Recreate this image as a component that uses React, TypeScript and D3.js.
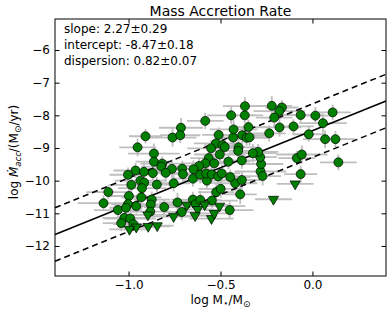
import React, { useEffect, useRef } from 'react';
import * as d3 from 'd3';

// detections: log M*/Msun and log Macc (Msun/yr)
const logMass = [
  -0.583, -0.715, -0.908, -0.761, -0.719, -0.951, -0.862, -0.510, -0.525, -0.489,
  -0.477, -0.551, -0.564, -0.583, -0.616, -0.534, -0.504, -0.862, -0.817, -0.822,
  -0.764, -0.708, -0.647, -0.962, -0.916, -0.868, -1.003, -0.798, -0.704, -0.650,
  -0.610, -0.574, -0.578, -0.547, -0.513, -0.493, -0.985, -0.936, -0.915, -0.846,
  -0.755, -0.927, -1.110, -0.998, -0.931, -1.136, -1.003, -0.958, -0.874, -0.879,
  -0.806, -0.734, -0.650, -0.636, -0.547, -0.610, -0.523, -0.499, -1.058, -1.014,
  -0.882, -0.711, -1.023, -0.991, -1.040, -0.974, -0.450, -0.393, -0.420, -0.384,
  -0.447, -0.282, -0.271, -0.279, -0.284, -0.295, -0.324, -0.384, -0.457, -0.402,
  -0.404, -0.431, -0.382, -0.358, -0.342, -0.429, -0.348, -0.235, -0.179, -0.103,
  -0.442, -0.368, -0.367, -0.221, -0.166, -0.180, -0.208, -0.064, 0.016, 0.110,
  0.057, -0.020, 0.069, 0.125, -0.085, -0.058, 0.141, -0.064,
];
const logMacc = [
  -8.17, -8.38, -8.64, -8.68, -8.61, -8.98, -9.17, -8.60, -8.86, -8.91,
  -8.97, -9.01, -9.31, -9.47, -9.55, -9.47, -9.20, -9.42, -9.48, -9.57,
  -9.64, -9.63, -9.65, -9.69, -9.73, -9.77, -9.82, -9.76, -9.80, -9.94,
  -9.82, -10.00, -9.78, -9.81, -9.87, -9.78, -10.13, -10.00, -10.06, -10.12,
  -10.08, -10.23, -10.35, -10.47, -10.51, -10.69, -10.72, -10.78, -10.58, -10.73,
  -10.81, -10.67, -10.58, -10.72, -10.61, -10.59, -10.35, -10.25, -10.90, -10.83,
  -10.95, -10.96, -11.14, -11.16, -11.30, -11.33, -10.90, -10.42, -10.08, -9.98,
  -9.89, -9.72, -9.86, -9.49, -9.28, -9.12, -9.16, -9.38, -9.42, -8.98,
  -9.09, -8.68, -8.61, -8.69, -8.67, -8.43, -8.36, -8.55, -8.37, -8.34,
  -8.00, -8.00, -7.72, -7.71, -7.76, -7.87, -8.07, -7.99, -8.01, -7.91,
  -8.24, -8.58, -8.73, -8.73, -9.31, -9.20, -9.44, -9.80,
];
const massErr = [
  0.10, 0.12, 0.09, 0.13, 0.11, 0.10, 0.14, 0.09, 0.12, 0.10,
  0.11, 0.13, 0.10, 0.12, 0.09, 0.11, 0.14, 0.10, 0.12, 0.11,
  0.13, 0.09, 0.10, 0.12, 0.11, 0.14, 0.10, 0.09, 0.12, 0.11,
  0.10, 0.13, 0.12, 0.09, 0.11, 0.10, 0.12, 0.14, 0.10, 0.11,
  0.09, 0.13, 0.12, 0.10, 0.11, 0.14, 0.09, 0.12, 0.10, 0.13,
  0.11, 0.10, 0.12, 0.09, 0.14, 0.11, 0.10, 0.12, 0.13, 0.09,
  0.11, 0.10, 0.12, 0.14, 0.10, 0.11, 0.13, 0.09, 0.12, 0.10,
  0.11, 0.14, 0.10, 0.12, 0.09, 0.11, 0.13, 0.10, 0.12, 0.11,
  0.09, 0.10, 0.14, 0.12, 0.11, 0.13, 0.10, 0.09, 0.12, 0.11,
  0.13, 0.10, 0.12, 0.11, 0.09, 0.14, 0.10, 0.12, 0.11, 0.10,
  0.13, 0.09, 0.12, 0.11, 0.10, 0.14, 0.10, 0.09,
];
const maccErr = [
  0.25, 0.30, 0.22, 0.28, 0.24, 0.27, 0.31, 0.23, 0.26, 0.29,
  0.22, 0.25, 0.30, 0.24, 0.27, 0.23, 0.28, 0.26, 0.22, 0.25,
  0.29, 0.24, 0.27, 0.23, 0.30, 0.25, 0.22, 0.28, 0.26, 0.24,
  0.27, 0.23, 0.25, 0.29, 0.22, 0.26, 0.28, 0.24, 0.30, 0.23,
  0.25, 0.27, 0.22, 0.26, 0.29, 0.24, 0.28, 0.23, 0.25, 0.27,
  0.22, 0.30, 0.24, 0.26, 0.23, 0.28, 0.25, 0.27, 0.22, 0.29,
  0.24, 0.26, 0.23, 0.28, 0.25, 0.22, 0.27, 0.30, 0.24, 0.26,
  0.23, 0.25, 0.29, 0.22, 0.27, 0.24, 0.28, 0.26, 0.23, 0.25,
  0.30, 0.22, 0.27, 0.24, 0.26, 0.29, 0.23, 0.25, 0.28, 0.22,
  0.26, 0.24, 0.27, 0.30, 0.23, 0.25, 0.28, 0.22, 0.26, 0.24,
  0.29, 0.23, 0.27, 0.25, 0.22, 0.28, 0.24, 0.26,
];

// upper limits (down triangles)
const limMass = [
  -0.895, -0.755, -0.683, -0.586, -0.624, -0.638, -0.549, -0.534,
  -0.505, -0.958, -0.995, -0.893, -0.844, -0.094, -0.212,
];
const limMacc = [
  -11.05, -11.10, -10.75, -10.74, -10.88, -11.07, -11.16, -11.00,
  -10.78, -11.42, -11.49, -11.40, -11.38, -10.10, -10.57,
];
const limMassErr = [
  0.11, 0.12, 0.10, 0.13, 0.09, 0.11, 0.12, 0.10,
  0.14, 0.10, 0.11, 0.12, 0.09, 0.10, 0.10,
];

const xTicks = [-1.0, -0.5, 0.0];
const yTicks = [-12, -11, -10, -9, -8, -7, -6];
const xRange = [-1.4, 0.4];
const yRange = [-12.92, -5.05];

const fitSlope = 2.27;
const fitIntercept = -8.47;
const fitDispersion = 0.82;
const fitLabels = [
  'slope: 2.27\u00b10.29',
  'intercept: -8.47\u00b10.18',
  'dispersion: 0.82\u00b10.07',
];

const W = 391;
const H = 316;
const font = "'DejaVu Sans', sans-serif";

export default function App() {
  const ref = useRef<SVGSVGElement>(null);

  useEffect(() => {
    const svg = d3.select(ref.current);
    svg.selectAll('*').remove();

    const left = 55, right = 386, top = 19, bottom = 276;
    const x = d3.scaleLinear().domain(xRange).range([left, right]);
    const y = d3.scaleLinear().domain(yRange).range([bottom, top]);

    // error bars
    const bars = svg.append('g').attr('stroke', '#bfbfbf').attr('stroke-width', 1.8);
    logMass.forEach((m, i) => {
      bars.append('line')
        .attr('x1', x(m - massErr[i])).attr('x2', x(m + massErr[i]))
        .attr('y1', y(logMacc[i])).attr('y2', y(logMacc[i]));
      bars.append('line')
        .attr('x1', x(m)).attr('x2', x(m))
        .attr('y1', y(logMacc[i] - maccErr[i])).attr('y2', y(logMacc[i] + maccErr[i]));
    });
    limMass.forEach((m, i) => {
      bars.append('line')
        .attr('x1', x(m - limMassErr[i])).attr('x2', x(m + limMassErr[i]))
        .attr('y1', y(limMacc[i])).attr('y2', y(limMacc[i]));
    });

    // fit and dispersion lines
    const fit = (off: number) => d3.line<number>()
      .x(d => x(d))
      .y(d => y(fitIntercept + fitSlope * d + off))(xRange);
    svg.append('path').attr('d', fit(0))
      .attr('fill', 'none').attr('stroke', '#000').attr('stroke-width', 1.5);
    [fitDispersion, -fitDispersion].forEach(off => {
      svg.append('path').attr('d', fit(off))
        .attr('fill', 'none').attr('stroke', '#000').attr('stroke-width', 1.5)
        .attr('stroke-dasharray', '6,4');
    });

    // markers
    svg.append('g').selectAll('circle')
      .data(logMass)
      .enter().append('circle')
      .attr('cx', d => x(d))
      .attr('cy', (d, i) => y(logMacc[i]))
      .attr('r', 4.5)
      .attr('fill', '#008000')
      .attr('stroke', '#000')
      .attr('stroke-width', 0.7);

    const tri = d3.symbol().type(d3.symbolTriangle).size(45);
    svg.append('g').selectAll('path')
      .data(limMass)
      .enter().append('path')
      .attr('d', tri())
      .attr('transform', (d, i) => `translate(${x(d)},${y(limMacc[i])}) rotate(180)`)
      .attr('fill', '#008000')
      .attr('stroke', '#000')
      .attr('stroke-width', 0.7);

    // axes, ticks inside on all sides
    const styleAxis = (g: any) => {
      g.select('.domain').remove();
      g.selectAll('line').attr('stroke', '#000').attr('stroke-width', 1);
      g.selectAll('text').attr('fill', '#000');
      g.attr('font-family', font).attr('font-size', 12);
    };
    svg.append('g').attr('transform', `translate(0,${bottom})`)
      .call(d3.axisBottom(x).tickValues(xTicks).tickSize(-4.5).tickPadding(4).tickFormat(d3.format('.1f')))
      .call(styleAxis);
    svg.append('g').attr('transform', `translate(0,${top})`)
      .call(d3.axisTop(x).tickValues(xTicks).tickSize(-4.5).tickFormat(() => ''))
      .call(styleAxis);
    svg.append('g').attr('transform', `translate(${left},0)`)
      .call(d3.axisLeft(y).tickValues(yTicks).tickSize(-4.5).tickPadding(5).tickFormat(d3.format('d')))
      .call(styleAxis);
    svg.append('g').attr('transform', `translate(${right},0)`)
      .call(d3.axisRight(y).tickValues(yTicks).tickSize(-4.5).tickFormat(() => ''))
      .call(styleAxis);

    svg.append('rect')
      .attr('x', left).attr('y', top)
      .attr('width', right - left).attr('height', bottom - top)
      .attr('fill', 'none').attr('stroke', '#000').attr('stroke-width', 1);

    // fit results
    svg.append('g').selectAll('text')
      .data(fitLabels)
      .enter().append('text')
      .attr('x', 64)
      .attr('y', (d, i) => 33 + i * 16)
      .attr('font-family', font).attr('font-size', 12)
      .text(d => d);

    svg.append('text')
      .attr('x', (left + right) / 2).attr('y', 16)
      .attr('text-anchor', 'middle')
      .attr('font-family', font).attr('font-size', 14)
      .text('Mass Accretion Rate');

    // x label
    const xl = svg.append('text')
      .attr('x', (left + right) / 2).attr('y', 304)
      .attr('text-anchor', 'middle')
      .attr('font-family', font).attr('font-size', 12);
    xl.append('tspan').text('log M');
    xl.append('tspan').attr('font-size', 9).attr('dy', 2).text('\u22c6');
    xl.append('tspan').attr('dy', -2).text('/M');
    xl.append('tspan').attr('font-size', 9).attr('dy', 3).text('\u2299');

    // y label
    const yl = svg.append('text')
      .attr('transform', `translate(18,152) rotate(-90)`)
      .attr('text-anchor', 'middle')
      .attr('font-family', font).attr('font-size', 12);
    yl.append('tspan').text('log ');
    yl.append('tspan').attr('font-style', 'italic').text('\u1e40');
    yl.append('tspan').attr('font-size', 8.5).attr('font-style', 'italic').attr('dy', 2.5).text('acc');
    yl.append('tspan').attr('dy', -2.5).text('/(M');
    yl.append('tspan').attr('font-size', 9).attr('dy', 3).text('\u2299');
    yl.append('tspan').attr('dy', -3).text('/yr)');
  }, []);

  return (
    <svg ref={ref} width={W} height={H}
      style={{ position: 'absolute', left: 0, top: 0, background: '#fff' }} />
  );
}
